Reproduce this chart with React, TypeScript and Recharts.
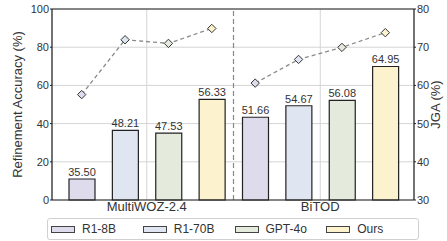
import { ComposedChart, Bar, Line, XAxis, YAxis, CartesianGrid, ReferenceLine, LabelList, Cell } from 'recharts';

const models = ['R1-8B', 'R1-70B', 'GPT-4o', 'Ours'];
const modelColors = ['#dedbec', '#dfe6f2', '#e4eadc', '#fcf2cd'];
const datasets = ['MultiWOZ-2.4', 'BiTOD'];

// JGA (%) -> bars, right axis
const jgaMultiwoz = [35.5, 48.21, 47.53, 56.33];
const jgaBitod = [51.66, 54.67, 56.08, 64.95];

// Refinement accuracy (%) -> dashed lines, left axis
const refineMultiwoz = [55.2, 83.9, 82.0, 89.8];
const refineBitod = [61.2, 73.6, 79.9, 87.6];

const leftTicks = [0, 20, 40, 60, 80, 100];
const rightTicks = [30, 40, 50, 60, 70, 80];

const FONT = '"Liberation Sans", Arial, sans-serif';

const jgaByDataset = [jgaMultiwoz, jgaBitod];
const refineByDataset = [refineMultiwoz, refineBitod];

const chartData = datasets.flatMap((ds, g) =>
  models.map((m, i) => ({
    key: `${ds}-${m}`,
    pos: g * models.length + i + 0.5,
    m: i,
    jga: jgaByDataset[g][i],
    refA: g === 0 ? refineByDataset[g][i] : null,
    refB: g === 1 ? refineByDataset[g][i] : null,
  }))
);

const groupTicks = datasets.map((_, g) => g * models.length + models.length / 2);

const Diamond = (props: any) => {
  const { cx, cy, payload, index } = props;
  if (cx == null || cy == null) return <g key={`d-${index}`} />;
  const r = 4.2;
  return (
    <polygon
      key={`d-${index}`}
      points={`${cx},${cy - r} ${cx + r},${cy} ${cx},${cy + r} ${cx - r},${cy}`}
      fill={modelColors[payload.m]}
      stroke="#333"
      strokeWidth={1}
    />
  );
};

const tickStyle = { fontSize: 11, fill: '#333', fontFamily: FONT };

export default function App() {
  return (
    <div style={{ position: 'absolute', left: 0, top: 0, width: 447, height: 241, fontFamily: FONT, background: '#fff' }}>
      <ComposedChart
        width={447}
        height={241}
        data={chartData}
        margin={{ top: 9, right: 0, bottom: 23, left: 0 }}
      >
        <CartesianGrid
          xAxisId="grp"
          yAxisId="left"
          stroke="#d4d4d4"
          strokeWidth={1}
        />
        <XAxis
          xAxisId="grp"
          dataKey="pos"
          type="number"
          domain={[0, datasets.length * models.length]}
          allowDataOverflow
          ticks={groupTicks}
          tickFormatter={(v: number) => datasets[Math.round((v - models.length / 2) / models.length)]}
          padding={{ left: 8, right: 7 }}
          height={18}
          tickLine={false}
          tickSize={0}
          tickMargin={2}
          axisLine={{ stroke: '#222', strokeWidth: 1.2 }}
          tick={{ fontSize: 13, fill: '#333', fontFamily: FONT }}
        />
        <XAxis xAxisId="bar" dataKey="key" hide height={0} padding={{ left: 8, right: 7 }} />
        <YAxis
          yAxisId="left"
          domain={[0, 100]}
          ticks={leftTicks}
          width={52}
          tickSize={2}
          tickMargin={1}
          axisLine={{ stroke: '#222', strokeWidth: 1.2 }}
          tickLine={{ stroke: '#222' }}
          tick={tickStyle}
          label={{
            value: 'Refinement Accuracy (%)',
            angle: -90,
            position: 'insideLeft',
            offset: 17,
            style: { textAnchor: 'middle', fontSize: 13, fill: '#333', fontFamily: FONT },
          }}
        />
        <YAxis
          yAxisId="right"
          orientation="right"
          domain={[30, 80]}
          ticks={rightTicks}
          width={33}
          tickSize={2}
          tickMargin={1}
          axisLine={{ stroke: '#222', strokeWidth: 1.2 }}
          tickLine={{ stroke: '#222' }}
          tick={tickStyle}
          label={{
            value: 'JGA (%)',
            angle: -90,
            position: 'insideRight',
            offset: 12,
            style: { textAnchor: 'middle', fontSize: 13, fill: '#333', fontFamily: FONT },
          }}
        />
        <ReferenceLine yAxisId="left" xAxisId="grp" y={100} stroke="#222" strokeWidth={1.2} />
        <ReferenceLine
          yAxisId="left"
          xAxisId="grp"
          x={models.length}
          stroke="#888"
          strokeWidth={1.2}
          strokeDasharray="5 3"
        />
        <Bar
          xAxisId="bar"
          yAxisId="right"
          dataKey="jga"
          barSize={26}
          stroke="#222"
          strokeWidth={1.2}
          isAnimationActive={false}
        >
          {chartData.map((d) => (
            <Cell key={d.key} fill={modelColors[d.m]} />
          ))}
          <LabelList
            dataKey="jga"
            position="top"
            offset={3}
            formatter={(v: any) => Number(v).toFixed(2)}
            style={{ fontSize: 11, fill: '#333', fontFamily: FONT }}
          />
        </Bar>
        <Line
          xAxisId="bar"
          yAxisId="left"
          dataKey="refA"
          stroke="#8a8a8a"
          strokeWidth={1.3}
          strokeDasharray="4 3"
          dot={Diamond}
          activeDot={false}
          isAnimationActive={false}
        />
        <Line
          xAxisId="bar"
          yAxisId="left"
          dataKey="refB"
          stroke="#8a8a8a"
          strokeWidth={1.3}
          strokeDasharray="4 3"
          dot={Diamond}
          activeDot={false}
          isAnimationActive={false}
        />
      </ComposedChart>
      <div
        style={{
          position: 'absolute',
          left: 47,
          top: 218,
          width: 372,
          height: 22,
          boxSizing: 'border-box',
          border: '1px solid #d0d0d0',
          borderRadius: 3,
          display: 'flex',
          alignItems: 'center',
          paddingLeft: 3,
        }}
      >
        {models.map((m, i) => (
          <div key={m} style={{ width: 104, display: 'flex', alignItems: 'center' }}>
            <span
              style={{
                display: 'inline-block',
                width: 24,
                height: 7,
                boxSizing: 'border-box',
                border: '1px solid #444',
                background: modelColors[i],
                marginRight: 7,
              }}
            />
            <span style={{ fontSize: 12, color: '#333', lineHeight: '14px' }}>{m}</span>
          </div>
        ))}
      </div>
    </div>
  );
}
